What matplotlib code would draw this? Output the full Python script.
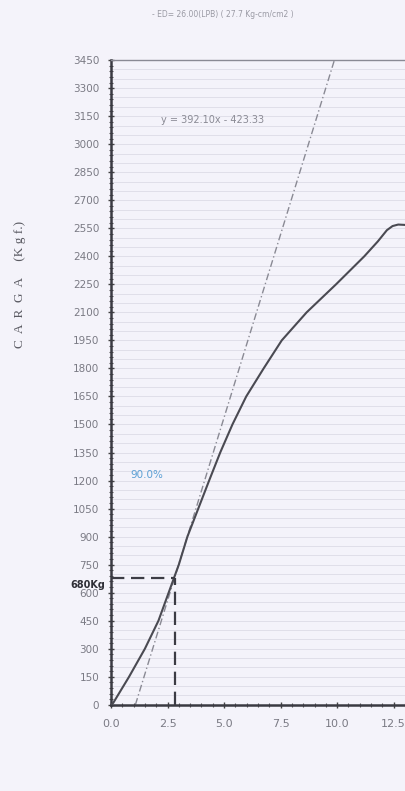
import numpy as np
import matplotlib
matplotlib.use('Agg')
import matplotlib.pyplot as plt
from matplotlib.ticker import MultipleLocator

# load vs displacement
disp = [0.0, 0.1, 0.4, 0.8, 1.5, 2.1, 2.55, 3.0, 3.38, 3.86, 4.34, 4.83, 5.37,
        5.98, 6.75, 7.55, 8.65, 9.95, 11.2, 11.8, 12.2, 12.45, 12.7, 13.0]
load = [0, 10, 70, 150, 300, 450, 600, 750, 900, 1050, 1200, 1350, 1500,
        1650, 1800, 1950, 2100, 2250, 2400, 2480, 2540, 2562, 2570, 2568]

# tangent line y = 392.10x - 423.33
slope = 392.10
intercept = -423.33

yield_x = 2.83
yield_load = 680

yticks = list(range(0, 3451, 150))
xticks = [0.0, 2.5, 5.0, 7.5, 10.0, 12.5]
xlabels = ['0.0', '2.5', '5.0', '7.5', '10.0', '12.5']

bg = '#f4f3fa'
fig = plt.figure(figsize=(4.05, 7.91), dpi=100, facecolor=bg)
ax = fig.add_axes([0.274, 0.109, 0.726, 0.815], facecolor=bg)

# faint paper lines
for yy in range(50, 3450, 50):
    ax.axhline(yy, color='#d8d7e2', lw=0.5, zorder=0)

# tangent line
x0 = -intercept / slope
x1 = (3450 - intercept) / slope
ax.plot([x0, x1], [0, 3450], color='#8a8a94', lw=1.0, ls=(0, (5, 2, 1, 2)), zorder=2)

# curve
ax.plot(disp, load, color='#4a4a52', lw=1.5, zorder=3, solid_joinstyle='round')

# yield marks
ax.plot([0, yield_x], [yield_load, yield_load], color='#3c3c44', lw=1.6, ls=(0, (6, 3)), zorder=4)
ax.plot([yield_x, yield_x], [0, yield_load], color='#3c3c44', lw=1.6, ls=(0, (6, 3)), zorder=4)

ax.set_xlim(0, 13.0)
ax.set_ylim(0, 3450)
ax.set_yticks(yticks)
ax.set_yticklabels([str(v) for v in yticks], color='#7a7a84', fontsize=7.5)
ax.set_xticks(xticks)
ax.set_xticklabels(xlabels, color='#7a7a84', fontsize=8)
ax.yaxis.set_minor_locator(MultipleLocator(30))
ax.xaxis.set_minor_locator(MultipleLocator(0.5))
ax.tick_params(axis='y', which='major', direction='inout', length=5, width=1, color='#444', pad=6)
ax.tick_params(axis='y', which='minor', direction='inout', length=3, width=0.8, color='#555')
ax.tick_params(axis='x', which='major', direction='inout', length=5, width=1, color='#444', pad=8)
ax.tick_params(axis='x', which='minor', direction='inout', length=3, width=0.8, color='#555')

ax.spines['left'].set_color('#3a3a42')
ax.spines['left'].set_linewidth(1.8)
ax.spines['bottom'].set_color('#3a3a42')
ax.spines['bottom'].set_linewidth(1.8)
ax.spines['top'].set_color('#8a8a94')
ax.spines['top'].set_linewidth(1.0)
ax.spines['right'].set_visible(False)

ax.text(2.2, 3130, 'y = 392.10x - 423.33', color='#8a8a94', fontsize=7, va='center')
ax.text(0.85, 1230, '90.0%', color='#5a9fd4', fontsize=7.5, va='center')
ax.text(-0.25, 640, '680Kg', color='#2e2e36', fontsize=7, fontweight='bold',
        ha='right', va='center', zorder=6, clip_on=False)

fig.text(0.55, 0.982, '- ED= 26.00(LPB) ( 27.7 Kg-cm/cm2 )', color='#9a9aa4',
         fontsize=5.5, ha='center', va='center')
fig.text(0.05, 0.64, 'C  A  R  G  A     (K g f.)', rotation=90, color='#5a5a62',
         fontsize=9.5, family='Liberation Serif', ha='center', va='center')

fig.savefig('out.png', dpi=100, facecolor=bg)
